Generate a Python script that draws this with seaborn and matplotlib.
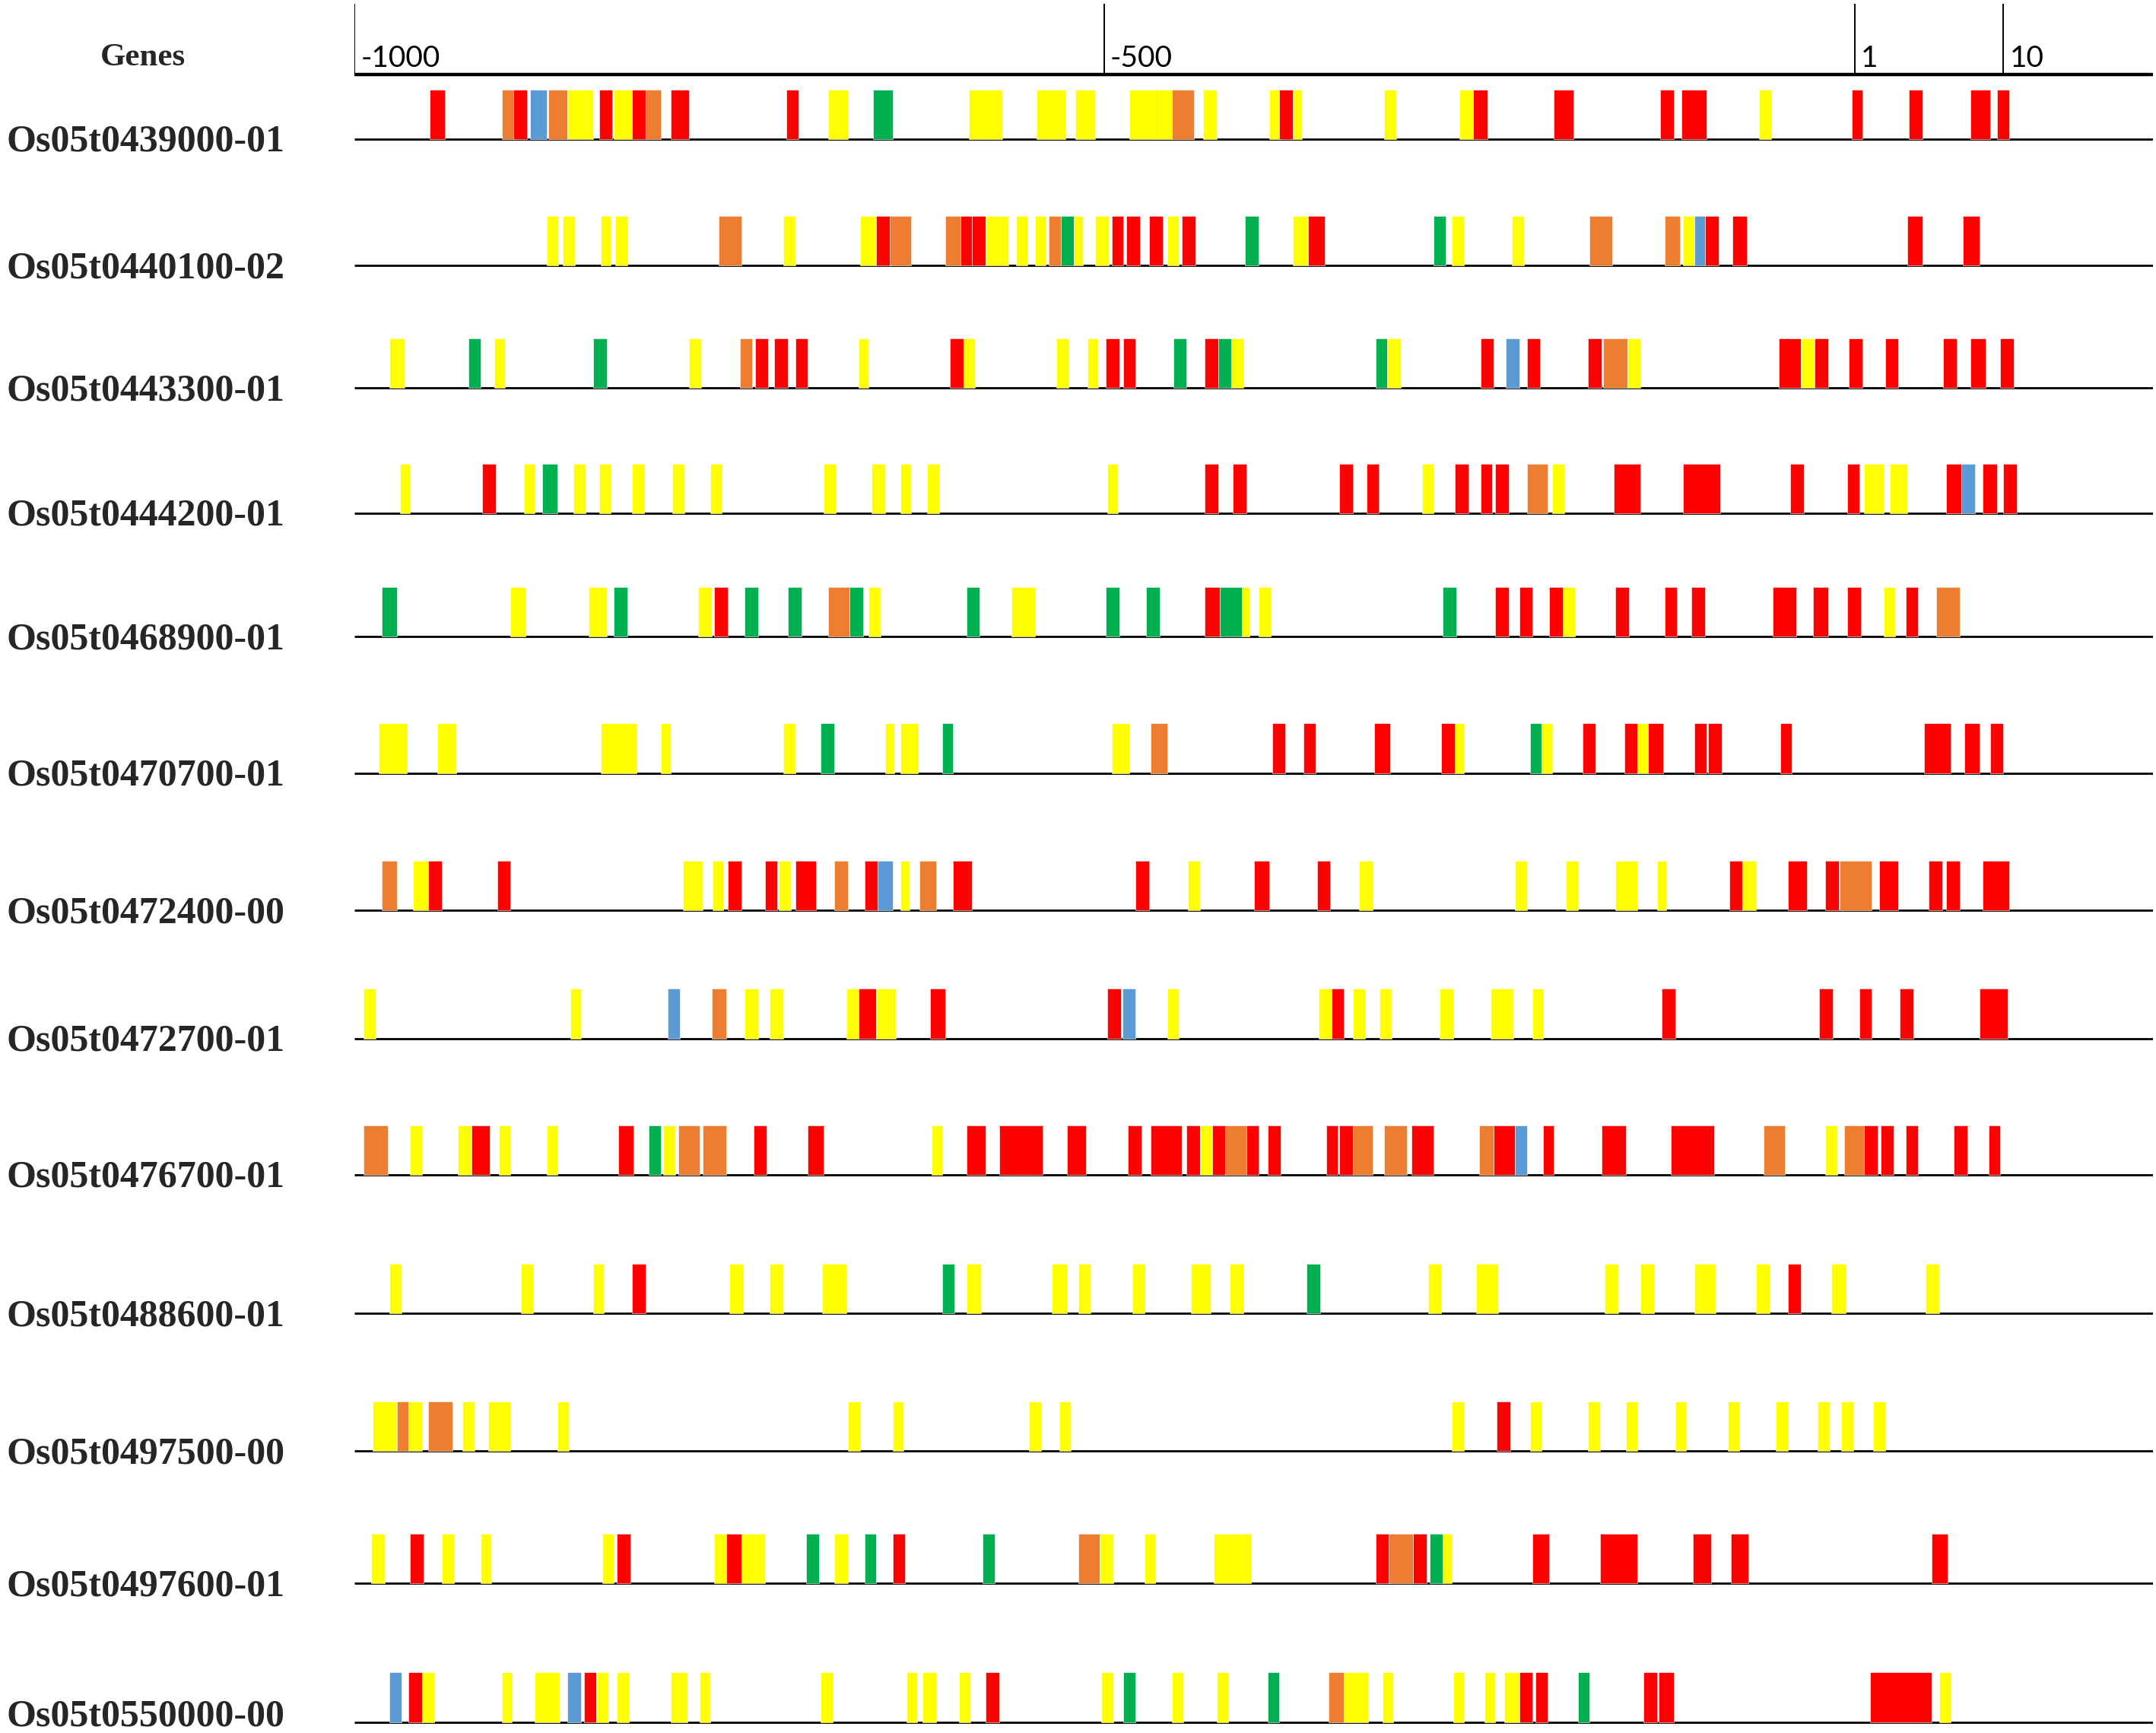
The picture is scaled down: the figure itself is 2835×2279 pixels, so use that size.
import matplotlib
matplotlib.use("Agg")
import matplotlib.pyplot as plt
import matplotlib.transforms as mtransforms
import numpy as np
import pandas as pd
import seaborn as sns

# gene names (top to bottom)
genes = [
    "Os05t0439000-01", "Os05t0440100-02", "Os05t0443300-01", "Os05t0444200-01",
    "Os05t0468900-01", "Os05t0470700-01", "Os05t0472400-00", "Os05t0472700-01",
    "Os05t0476700-01", "Os05t0488600-01", "Os05t0497500-00", "Os05t0497600-01",
    "Os05t0550000-00",
]

# motif sites per gene: (start, end, motif)  R=red Y=yellow G=green O=orange B=blue
m_0439000 = [(-950, -940, "R"), (-902, -893, "O"), (-894, -885, "R"), (-883, -872, "B"),
             (-871, -858, "O"), (-858, -841, "Y"), (-837, -828, "R"), (-827, -815, "Y"),
             (-815, -806, "R"), (-806, -796, "O"), (-789, -777, "R"), (-712, -704, "R"),
             (-684, -671, "Y"), (-654, -641, "G"), (-590, -568, "Y"), (-545, -526, "Y"),
             (-519, -506, "Y"), (-483, -464, "Y"), (-464, -455, "Y"), (-455, -440, "O"),
             (-434, -425, "Y"), (-390, -382, "Y"), (-374, -368, "Y"), (-383, -374, "R"),
             (-313, -305, "Y"), (-263, -254, "Y"), (-254, -244, "R"), (-200, -187, "R"),
             (-129, -120, "R"), (-115, -98, "R"), (-63, -55, "Y"), (-1, 6, "R"),
             (37, 46, "R"), (78, 91, "R"), (96, 104, "R")]
m_0440100 = [(-872, -864, "Y"), (-861, -853, "Y"), (-836, -829, "Y"), (-826, -818, "Y"),
             (-757, -742, "O"), (-714, -706, "Y"), (-663, -652, "Y"), (-652, -642, "R"),
             (-643, -629, "O"), (-606, -596, "O"), (-596, -588, "R"), (-588, -579, "R"),
             (-579, -564, "Y"), (-559, -551, "Y"), (-546, -539, "Y"), (-537, -529, "O"),
             (-529, -520, "G"), (-520, -514, "Y"), (-506, -497, "Y"), (-495, -487, "R"),
             (-485, -476, "R"), (-470, -461, "R"), (-458, -450, "Y"), (-448, -439, "R"),
             (-406, -397, "G"), (-374, -364, "Y"), (-364, -353, "R"), (-280, -272, "G"),
             (-268, -260, "Y"), (-228, -220, "Y"), (-176, -161, "O"), (-126, -116, "O"),
             (-114, -106, "Y"), (-106, -99, "B"), (-99, -90, "R"), (-81, -71, "R"),
             (36, 46, "R"), (73, 84, "R")]
m_0443300 = [(-977, -967, "Y"), (-924, -916, "G"), (-907, -900, "Y"), (-841, -832, "G"),
             (-777, -769, "Y"), (-743, -735, "O"), (-733, -724, "R"), (-720, -711, "R"),
             (-706, -698, "R"), (-664, -657, "Y"), (-603, -594, "R"), (-594, -586, "Y"),
             (-532, -524, "Y"), (-511, -504, "Y"), (-499, -490, "R"), (-487, -479, "R"),
             (-454, -445, "G"), (-433, -424, "R"), (-424, -415, "G"), (-415, -407, "Y"),
             (-319, -311, "G"), (-311, -302, "Y"), (-249, -240, "R"), (-232, -223, "B"),
             (-218, -209, "R"), (-177, -168, "R"), (-167, -151, "O"), (-151, -142, "Y"),
             (-50, -35, "R"), (-35, -26, "Y"), (-26, -17, "R"), (-3, 6, "R"),
             (21, 30, "R"), (60, 69, "R"), (78, 88, "R"), (98, 107, "R")]
m_0444200 = [(-970, -963, "Y"), (-915, -906, "R"), (-887, -880, "Y"), (-875, -865, "G"),
             (-854, -846, "Y"), (-837, -829, "Y"), (-815, -807, "Y"), (-788, -780, "Y"),
             (-763, -755, "Y"), (-687, -679, "Y"), (-655, -646, "Y"), (-636, -629, "Y"),
             (-618, -610, "Y"), (-498, -491, "Y"), (-433, -424, "R"), (-414, -405, "R"),
             (-343, -334, "R"), (-325, -317, "R"), (-288, -280, "Y"), (-266, -257, "R"),
             (-249, -241, "R"), (-239, -230, "R"), (-218, -204, "O"), (-201, -193, "Y"),
             (-160, -142, "R"), (-114, -89, "R"), (-42, -33, "R"), (-4, 4, "R"),
             (7, 20, "Y"), (24, 36, "Y"), (62, 72, "R"), (72, 81, "B"),
             (86, 96, "R"), (100, 109, "R")]
m_0468900 = [(-982, -972, "G"), (-896, -886, "Y"), (-844, -832, "Y"), (-827, -818, "G"),
             (-771, -762, "Y"), (-760, -751, "R"), (-740, -731, "G"), (-711, -702, "G"),
             (-684, -670, "O"), (-670, -661, "G"), (-657, -649, "Y"), (-592, -583, "G"),
             (-562, -546, "Y"), (-499, -490, "G"), (-472, -463, "G"), (-433, -423, "R"),
             (-423, -408, "G"), (-408, -403, "Y"), (-397, -389, "Y"), (-274, -265, "G"),
             (-239, -230, "R"), (-223, -214, "R"), (-203, -194, "R"), (-194, -186, "Y"),
             (-159, -150, "R"), (-126, -118, "R"), (-108, -99, "R"), (-54, -38, "R"),
             (-27, -17, "R"), (-4, 5, "R"), (20, 28, "Y"), (35, 43, "R"), (55, 71, "O")]
m_0470700 = [(-984, -965, "Y"), (-945, -932, "Y"), (-836, -812, "Y"), (-796, -789, "Y"),
             (-714, -706, "Y"), (-689, -680, "G"), (-646, -640, "Y"), (-636, -624, "Y"),
             (-608, -601, "G"), (-495, -483, "Y"), (-469, -458, "O"), (-388, -379, "R"),
             (-367, -359, "R"), (-320, -309, "R"), (-275, -266, "R"), (-266, -260, "Y"),
             (-216, -208, "G"), (-208, -201, "Y"), (-181, -172, "R"), (-153, -144, "R"),
             (-144, -137, "Y"), (-137, -127, "R"), (-106, -98, "R"), (-97, -88, "R"),
             (-49, -41, "R"), (47, 65, "R"), (74, 84, "R"), (91, 100, "R")]
m_0472400 = [(-982, -972, "O"), (-961, -951, "Y"), (-951, -942, "R"), (-905, -896, "R"),
             (-781, -768, "Y"), (-761, -754, "Y"), (-751, -742, "R"), (-726, -718, "R"),
             (-717, -709, "Y"), (-706, -692, "R"), (-680, -671, "O"), (-660, -651, "R"),
             (-651, -641, "B"), (-636, -630, "Y"), (-623, -612, "O"), (-601, -588, "R"),
             (-479, -470, "R"), (-444, -436, "Y"), (-400, -390, "R"), (-358, -349, "R"),
             (-330, -321, "Y"), (-226, -218, "Y"), (-192, -184, "Y"), (-159, -144, "Y"),
             (-131, -125, "Y"), (-83, -74, "R"), (-74, -65, "Y"), (-44, -31, "R"),
             (-19, -10, "R"), (-9, 12, "O"), (17, 30, "R"), (50, 59, "R"),
             (62, 71, "R"), (86, 104, "R")]
m_0472700 = [(-994, -986, "Y"), (-856, -849, "Y"), (-791, -783, "B"), (-762, -752, "O"),
             (-740, -731, "Y"), (-723, -714, "Y"), (-672, -664, "Y"), (-664, -652, "R"),
             (-652, -639, "Y"), (-616, -606, "R"), (-498, -489, "R"), (-488, -479, "B"),
             (-458, -450, "Y"), (-357, -348, "Y"), (-348, -340, "R"), (-334, -326, "Y"),
             (-316, -308, "Y"), (-276, -267, "Y"), (-242, -227, "Y"), (-214, -207, "Y"),
             (-128, -119, "R"), (-23, -14, "R"), (4, 12, "R"), (31, 40, "R"), (84, 103, "R")]
m_0476700 = [(-994, -978, "O"), (-963, -955, "Y"), (-931, -922, "Y"), (-922, -910, "R"),
             (-904, -896, "Y"), (-872, -865, "Y"), (-824, -814, "R"), (-804, -796, "G"),
             (-794, -786, "Y"), (-784, -770, "O"), (-768, -752, "O"), (-734, -725, "R"),
             (-698, -687, "R"), (-615, -608, "Y"), (-592, -579, "R"), (-570, -541, "R"),
             (-525, -512, "R"), (-484, -475, "R"), (-469, -448, "R"), (-445, -436, "R"),
             (-436, -428, "Y"), (-428, -418, "R"), (-419, -405, "O"), (-405, -397, "R"),
             (-391, -382, "R"), (-352, -344, "R"), (-343, -334, "R"), (-334, -321, "O"),
             (-313, -298, "O"), (-295, -280, "R"), (-250, -240, "O"), (-240, -226, "R"),
             (-226, -218, "B"), (-207, -200, "R"), (-168, -152, "R"), (-122, -93, "R"),
             (-60, -46, "O"), (-19, -11, "Y"), (-6, 7, "O"), (7, 16, "R"),
             (18, 27, "R"), (35, 43, "R"), (67, 76, "R"), (90, 98, "R")]
m_0488600 = [(-977, -969, "Y"), (-889, -881, "Y"), (-841, -834, "Y"), (-815, -806, "R"),
             (-750, -741, "Y"), (-723, -714, "Y"), (-688, -672, "Y"), (-608, -600, "G"),
             (-592, -582, "Y"), (-535, -525, "Y"), (-517, -509, "Y"), (-481, -473, "Y"),
             (-442, -429, "Y"), (-416, -407, "Y"), (-365, -356, "G"), (-284, -275, "Y"),
             (-252, -237, "Y"), (-166, -157, "Y"), (-142, -133, "Y"), (-106, -92, "Y"),
             (-65, -56, "Y"), (-44, -35, "R"), (-15, -5, "Y"), (48, 57, "Y")]
m_0497500 = [(-988, -972, "Y"), (-972, -964, "O"), (-964, -955, "Y"), (-951, -935, "O"),
             (-928, -920, "Y"), (-911, -896, "Y"), (-865, -857, "Y"), (-671, -663, "Y"),
             (-641, -634, "Y"), (-550, -542, "Y"), (-530, -522, "Y"), (-268, -260, "Y"),
             (-238, -229, "R"), (-216, -208, "Y"), (-177, -169, "Y"), (-152, -144, "Y"),
             (-119, -112, "Y"), (-84, -76, "Y"), (-52, -44, "Y"), (-24, -16, "Y"),
             (-8, 0, "Y"), (13, 21, "Y")]
m_0497600 = [(-989, -980, "Y"), (-963, -954, "R"), (-942, -934, "Y"), (-916, -909, "Y"),
             (-835, -827, "Y"), (-825, -816, "R"), (-760, -752, "Y"), (-752, -742, "R"),
             (-742, -726, "Y"), (-699, -690, "G"), (-680, -671, "Y"), (-660, -652, "G"),
             (-641, -633, "R"), (-581, -573, "G"), (-517, -503, "O"), (-503, -494, "Y"),
             (-473, -466, "Y"), (-427, -402, "Y"), (-319, -309, "R"), (-310, -294, "O"),
             (-294, -285, "R"), (-283, -274, "G"), (-274, -268, "Y"), (-214, -203, "R"),
             (-169, -144, "R"), (-107, -95, "R"), (-82, -70, "R"), (52, 63, "R")]
m_0550000 = [(-977, -969, "B"), (-964, -955, "R"), (-955, -947, "Y"), (-902, -895, "Y"),
             (-880, -863, "Y"), (-858, -849, "B"), (-847, -839, "R"), (-839, -831, "Y"),
             (-825, -817, "Y"), (-789, -778, "Y"), (-770, -763, "Y"), (-689, -681, "Y"),
             (-632, -625, "Y"), (-621, -612, "Y"), (-597, -589, "Y"), (-579, -570, "R"),
             (-502, -494, "Y"), (-487, -479, "G"), (-455, -447, "Y"), (-425, -417, "Y"),
             (-391, -383, "G"), (-350, -340, "O"), (-340, -324, "Y"), (-314, -307, "Y"),
             (-267, -260, "Y"), (-246, -239, "Y"), (-233, -223, "Y"), (-223, -214, "R"),
             (-212, -204, "R"), (-184, -176, "G"), (-140, -131, "R"), (-130, -120, "R"),
             (11, 52, "R"), (57, 65, "Y")]

motif_lists = [m_0439000, m_0440100, m_0443300, m_0444200, m_0468900, m_0470700,
               m_0472400, m_0472700, m_0476700, m_0488600, m_0497500, m_0497600,
               m_0550000]

tick_pos = [-1000, -500, 1, 100]
tick_labels = ["-1000", "-500", "1", "10"]

motif_colors = {"R": "#FF0000", "Y": "#FFFF00", "G": "#00B050",
                "O": "#ED7D31", "B": "#5B9BD5"}

rows = []
for gene, sites in zip(genes, motif_lists):
    for start, end, motif in sites:
        rows.append({"gene": gene, "start": start, "end": end, "motif": motif})
df = pd.DataFrame(rows)

sns.set_theme(style="white")
plt.rcParams["font.family"] = ["Liberation Serif", "DejaVu Serif"]

# vertical layout (reference units, 0 at top, 1260 at bottom)
H = 1260.0
row_base = [101, 193, 282, 373, 463, 562, 662, 755, 854, 955, 1055, 1151, 1252]
box_h = 36
x_left, x_right = 258 / 1568, 1566 / 1568

fig = plt.figure(figsize=(28.35, 22.79), dpi=100)
ax = fig.add_axes([x_left, 0, x_right - x_left, 1])
ax.set_xlim(-1000, 200)
ax.set_ylim(H, 0)
ax.axis("off")

# top scale
ax.hlines(54, -1000, 200, color="black", lw=3.2)
ax.vlines(tick_pos, 3, 54, color="black", lw=1.4)
lab_tr = mtransforms.offset_copy(ax.transData, fig=fig, x=8, y=0, units="dots")
for pos, lab in zip(tick_pos, tick_labels):
    ax.text(pos, 48.5, lab, transform=lab_tr, ha="left", va="baseline",
            fontsize=28, family=["Lato", "DejaVu Sans"], color="black")

for i, gene in enumerate(genes):
    base = row_base[i]
    ax.hlines(base, -1000, 200, color="black", lw=2, zorder=1)
    sub = df[df["gene"] == gene]
    ax.bar(sub["start"], -box_h, width=sub["end"] - sub["start"], bottom=base,
           align="edge", color=[motif_colors[m] for m in sub["motif"]],
           edgecolor="white", linewidth=0.4, zorder=2)
    text_base = min(base + 9, H - 5)
    fig.text(106 / 1568, 1 - text_base / H, gene, ha="center", va="baseline",
             fontsize=36, fontweight="bold")

fig.text(104 / 1568, 1 - 47.5 / H, "Genes", ha="center", va="baseline",
         fontsize=31, fontweight="bold")

fig.savefig("out.png", dpi=100, facecolor="white")
